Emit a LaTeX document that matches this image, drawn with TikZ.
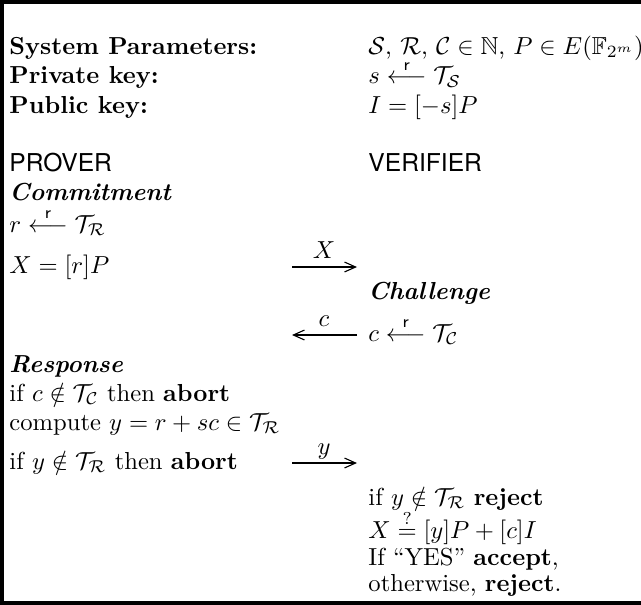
\documentclass[tikz,border=0pt]{standalone}
\usepackage{amssymb}
\usepackage{fontspec}
\newfontfamily\heros{TeX Gyre Heros}
\usetikzlibrary{arrows.meta}
\begin{document}
\begin{tikzpicture}[x=0.4065pt,y=-0.4065pt,
  txt/.style={anchor=base west, inner sep=0pt, font=\fontsize{10}{12}\selectfont},
  lbl/.style={anchor=base, inner sep=0pt, font=\fontsize{10}{12}\selectfont},
  msg/.style={line width=1.15pt, -{Straight Barb[length=4.5pt,width=4pt,line width=0.45pt]}},
  frame/.style={line width=1.25pt}]
\useasboundingbox (0,0) rectangle (641,605);
% open frame: top, left and bottom rules
\draw[frame] (641,2) -- (2,2) -- (2,603) -- (641,603);

% setup
\node[txt] (sp)  at (9,54)   {\textbf{System Parameters:}};
\node[txt] (spv) at (368,54) {$\mathcal{S}$, $\mathcal{R}$, $\mathcal{C} \in \mathbb{N}$, $P \in E(\mathbb{F}_{2^m})$};
\node[txt] (sk)  at (9,84)   {\textbf{Private key:}};
\node[txt] (skv) at (368,84) {$s \stackrel{\mathsf{r}}{\longleftarrow} \mathcal{T}_{\mathcal{S}}$};
\node[txt] (pk)  at (9,113)  {\textbf{Public key:}};
\node[txt] (pkv) at (368,113){$I = [-s]P$};

% parties
\node[txt] (prover)   at (9,171)   {\heros PROVER};
\node[txt] (verifier) at (368,171) {\heros VERIFIER};

% commitment
\node[txt] (com)  at (9,200)  {\textbf{\textit{Commitment}}};
\node[txt] (rsel) at (9,232)  {$r \stackrel{\mathsf{r}}{\longleftarrow} \mathcal{T}_{\mathcal{R}}$};
\node[txt] (xval) at (9,273)  {$X = [r]P$};

% challenge
\node[txt] (chl)  at (368,299) {\textbf{\textit{Challenge}}};
\node[txt] (csel) at (368,341) {$c \stackrel{\mathsf{r}}{\longleftarrow} \mathcal{T}_{\mathcal{C}}$};

% response
\node[txt] (rsp)  at (9,372) {\textbf{\textit{Response}}};
\node[txt] (chkc) at (9,401) {if $c \notin \mathcal{T}_{\mathcal{C}}$ then \textbf{abort}};
\node[txt] (comp) at (9,430) {compute $y = r + sc \in \mathcal{T}_{\mathcal{R}}$};
\node[txt] (chky) at (9,469) {if $y \notin \mathcal{T}_{\mathcal{R}}$ then \textbf{abort}};

% verification
\node[txt] (vy)   at (368,505) {if $y \notin \mathcal{T}_{\mathcal{R}}$ \textbf{reject}};
\node[txt] (veq)  at (368,538) {$X \stackrel{?}{=} [y]P + [c]I$};
\node[txt] (vok)  at (368,565) {If ``YES'' \textbf{accept},};
\node[txt] (vno)  at (368,591) {otherwise, \textbf{reject}.};

% messages
\coordinate (xs) at (292,267); \coordinate (xe) at (357,267);
\coordinate (cs) at (292,335); \coordinate (ce) at (357,335);
\coordinate (ys) at (292,463); \coordinate (ye) at (357,463);
\draw[msg] (xs) -- (xe);
\draw[msg] (ce) -- (cs);
\draw[msg] (ys) -- (ye);
\node[lbl] (xl) at (324,258) {$X$};
\node[lbl] (cl) at (324,326) {$c$};
\node[lbl] (yl) at (324,454) {$y$};
\end{tikzpicture}
\end{document}
